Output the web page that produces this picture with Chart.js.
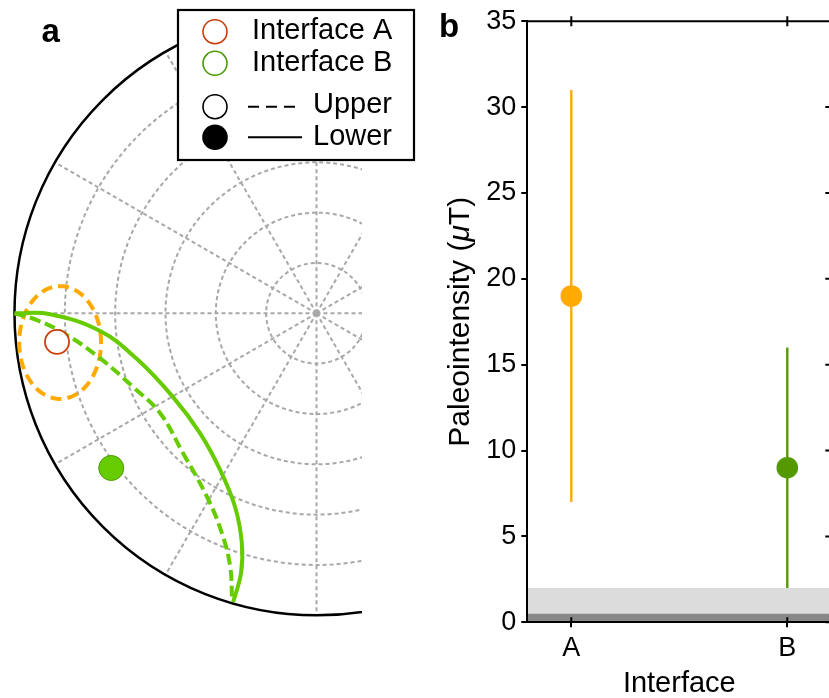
<!DOCTYPE html>
<html lang="en">
<head>
<meta charset="UTF-8">
<title>Interface directions and paleointensity</title>
<script src="https://cdn.jsdelivr.net/npm/chart.js@4"></script>
<style>
    html, body { margin: 0; padding: 0; width: 829px; height: 698px; overflow: hidden; background: #fff; }
    #stereo { position: absolute; left: 0; top: 0; }
    #intensity { position: absolute; left: 420px; top: 0; }
</style>
</head>
<body>
<canvas id="stereo" width="420" height="698"></canvas>
<canvas id="intensity" width="440" height="698"></canvas>
<script>
// ---- panel a: directions (declination / inclination in degrees, inc < 0 = upper hemisphere)
const siteNames = ['Interface A', 'Interface B'];
const siteDec = [263.7, 233.0];
const siteInc = [-12.2, 13.4];

// great circle traces
const lowerArcDec = [270, 269.8, 265.3, 255.7, 239.7, 224.2, 211.6, 202.8, 198.0, 196.2, 196.1];
const lowerArcInc = [0, 10.6, 25.3, 34.8, 40.5, 40.2, 35.2, 27.4, 18.0, 9.4, 0.4];
const upperArcDec = [270, 268.6, 265.0, 258.3, 248.1, 237.5, 223.7, 210.8, 203.3, 198.8, 196.4];
const upperArcInc = [0, -6.7, -15.4, -24.1, -31.1, -34.7, -32.4, -26.3, -18.7, -10.2, -0.9];

// confidence ellipse of Interface A: centre and half axes (degrees)
const ellipseA = { dec: 263.5, inc: -13.1, halfX: 12.2, halfY: 16.8 };

// net grid
const ringInc = [15, 30, 45, 60, 75];
const spokeDec = [0, 30, 60, 90, 120, 150, 180, 210, 240, 270, 300, 330];

// ---- panel b: paleointensity
const interfaces = ['A', 'B'];
const intensity = [19, 9];
const intensityLow = [7, 2];
const intensityHigh = [31, 16];
const bandTop = [2, 0.5];

const colorsA = { A: '#cc3c08', B: '#66cc00' };
const colorsB = ['#ffaa00', '#559900'];
const FONT = '"Liberation Sans", Arial, Helvetica, sans-serif';
Chart.defaults.font.family = FONT;
Chart.defaults.color = '#000';

// simple polar projection, radius linear in inclination
function project(dec, inc) {
    const r = (90 - Math.abs(inc)) / 90;
    const d = dec * Math.PI / 180;
    return { x: r * Math.sin(d), y: r * Math.cos(d) };
}

const lowerArc = lowerArcDec.map((d, i) => project(d, lowerArcInc[i]));
const upperArc = upperArcDec.map((d, i) => project(d, upperArcInc[i]));
const sites = siteDec.map((d, i) => project(d, siteInc[i]));

const ec = project(ellipseA.dec, ellipseA.inc);
const ellipsePts = [];
for (let k = 0; k <= 72; k++) {
    const t = k * 5 * Math.PI / 180;
    ellipsePts.push({ x: ec.x + ellipseA.halfX / 90 * Math.cos(t), y: ec.y + ellipseA.halfY / 90 * Math.sin(t) });
}

// grid + primitive circle
const netGrid = {
    id: 'netGrid',
    beforeDatasetsDraw(chart) {
        const { ctx, chartArea: a, scales: { x, y } } = chart;
        const cx = x.getPixelForValue(0), cy = y.getPixelForValue(0);
        const R = x.getPixelForValue(1) - cx;
        ctx.save();
        ctx.beginPath();
        ctx.rect(a.left, a.top, a.right - a.left, a.bottom - a.top);
        ctx.clip();
        ctx.strokeStyle = '#a8a8a8';
        ctx.lineWidth = 2;
        ctx.setLineDash([4, 3]);
        ringInc.forEach(inc => {
            ctx.beginPath();
            ctx.arc(cx, cy, R * (90 - inc) / 90, 0, 2 * Math.PI);
            ctx.stroke();
        });
        spokeDec.forEach(d => {
            const t = d * Math.PI / 180;
            ctx.beginPath();
            ctx.moveTo(cx, cy);
            ctx.lineTo(cx + R * Math.sin(t), cy - R * Math.cos(t));
            ctx.stroke();
        });
        ctx.setLineDash([]);
        ctx.strokeStyle = '#000';
        ctx.lineWidth = 2.5;
        ctx.beginPath();
        ctx.arc(cx, cy, R, 0, 2 * Math.PI);
        ctx.stroke();
        ctx.restore();
    }
};

// legend box and panel letter
const netLegend = {
    id: 'netLegend',
    afterDraw(chart) {
        const ctx = chart.ctx;
        ctx.save();
        ctx.fillStyle = '#fff';
        ctx.fillRect(177, 9, 238, 152);
        ctx.strokeStyle = '#000';
        ctx.lineWidth = 2.2;
        ctx.strokeRect(178, 10, 236, 150);

        function circle(cx, cy, stroke, fill) {
            ctx.beginPath();
            ctx.arc(cx, cy, 12, 0, 2 * Math.PI);
            if (fill) { ctx.fillStyle = fill; ctx.fill(); }
            ctx.lineWidth = 1.6;
            ctx.strokeStyle = stroke;
            ctx.stroke();
        }
        circle(215, 31.7, colorsA.A, '#fff');
        circle(215, 63.3, '#4c9a00', '#fff');
        circle(215, 106.7, '#000', '#fff');
        circle(215, 137.3, '#000', '#000');

        ctx.strokeStyle = '#000';
        ctx.lineWidth = 2;
        ctx.setLineDash([11, 7]);
        ctx.beginPath(); ctx.moveTo(248, 106.7); ctx.lineTo(299, 106.7); ctx.stroke();
        ctx.setLineDash([]);
        ctx.beginPath(); ctx.moveTo(248, 137.3); ctx.lineTo(302, 137.3); ctx.stroke();

        ctx.fillStyle = '#000';
        ctx.font = '29px ' + FONT;
        ctx.textBaseline = 'alphabetic';
        ctx.fillText(siteNames[0], 252, 39.3);
        ctx.fillText(siteNames[1], 252, 70.7);
        ctx.fillText('Upper', 313, 113.3);
        ctx.fillText('Lower', 313, 145);

        ctx.font = 'bold 33px ' + FONT;
        ctx.fillText('a', 41.5, 41.5);
        ctx.restore();
    }
};

new Chart(document.getElementById('stereo'), {
    type: 'scatter',
    data: {
        datasets: [
            {
                label: siteNames[0], data: [sites[0]], order: 0,
                pointRadius: 12, pointBackgroundColor: '#fff', pointBorderColor: colorsA.A, pointBorderWidth: 1.8
            },
            {
                label: siteNames[1], data: [sites[1]], order: 0,
                pointRadius: 12.5, pointBackgroundColor: colorsA.B, pointBorderColor: '#4c9a00', pointBorderWidth: 1
            },
            {
                label: 'Lower', data: lowerArc, showLine: true, order: 1, clip: 0,
                borderColor: colorsA.B, borderWidth: 4, pointRadius: 0, tension: 0.4
            },
            {
                label: 'Upper', data: upperArc, showLine: true, order: 1, clip: 0,
                borderColor: colorsA.B, borderWidth: 4, borderDash: [11, 5], pointRadius: 0, tension: 0.4
            },
            {
                label: 'a95', data: ellipsePts, showLine: true, order: 2, clip: 0,
                borderColor: '#ffaa00', borderWidth: 4, borderDash: [11, 6], pointRadius: 0
            }
        ]
    },
    options: {
        responsive: false,
        animation: false,
        layout: { padding: { left: 0, top: 0, right: 58, bottom: 0 }, autoPadding: false },
        scales: {
            x: { display: false, min: -1.048, max: 0.1507 },
            y: { display: false, min: -1.2738, max: 1.0374 }
        },
        plugins: { legend: { display: false }, tooltip: { enabled: false } }
    },
    plugins: [netGrid, netLegend]
});

// ---- panel b
const X_MIN = -0.2037, X_MAX = 1.2037;

const datasetsB = [];
bandTop.forEach((v, i) => {
    datasetsB.push({
        data: [{ x: X_MIN, y: v }, { x: X_MAX, y: v }], showLine: true, fill: 'origin',
        backgroundColor: i === 0 ? '#dcdcdc' : '#888888', borderWidth: 0, pointRadius: 0, order: 4 - i
    });
});
interfaces.forEach((name, i) => {
    datasetsB.push({
        label: name + ' range', data: [{ x: i, y: intensityLow[i] }, { x: i, y: intensityHigh[i] }],
        showLine: true, borderColor: colorsB[i], borderWidth: 2.4, pointRadius: 0, order: 1
    });
    datasetsB.push({
        label: name, data: [{ x: i, y: intensity[i] }],
        pointRadius: 10.8, pointBackgroundColor: colorsB[i], pointBorderWidth: 0, order: 0
    });
});

const frameB = {
    id: 'frameB',
    afterDraw(chart) {
        const { ctx, chartArea: a, scales: { x, y } } = chart;
        ctx.save();
        ctx.strokeStyle = '#000';
        ctx.lineWidth = 2;
        ctx.beginPath();
        ctx.moveTo(a.left - 1, a.top); ctx.lineTo(a.right, a.top);
        ctx.moveTo(a.right, a.top); ctx.lineTo(a.right, a.bottom);
        interfaces.forEach((_, i) => {
            const px = x.getPixelForValue(i);
            ctx.moveTo(px, a.top - 5); ctx.lineTo(px, a.top + 5);
            ctx.moveTo(px, a.bottom); ctx.lineTo(px, a.bottom - 5);
        });
        y.ticks.forEach(t => {
            const py = y.getPixelForValue(t.value);
            ctx.moveTo(a.right, py); ctx.lineTo(a.right - 6, py);
        });
        ctx.stroke();

        // y title with italic mu
        const parts = [['Paleointensity (', ''], ['\u03bc', 'italic '], ['T)', '']];
        ctx.fillStyle = '#000';
        ctx.textBaseline = 'middle';
        ctx.translate(41, (a.top + a.bottom) / 2);
        ctx.rotate(-Math.PI / 2);
        let total = 0;
        parts.forEach(p => { ctx.font = p[1] + '30px ' + FONT; total += ctx.measureText(p[0]).width; });
        let pos = -total / 2;
        parts.forEach(p => {
            ctx.font = p[1] + '30px ' + FONT;
            ctx.fillText(p[0], pos, 0);
            pos += ctx.measureText(p[0]).width;
        });
        ctx.restore();

        ctx.save();
        ctx.fillStyle = '#000';
        ctx.font = 'bold 33px ' + FONT;
        ctx.fillText('b', 19, 37);
        ctx.restore();
    }
};

new Chart(document.getElementById('intensity'), {
    type: 'scatter',
    data: { datasets: datasetsB },
    options: {
        responsive: false,
        animation: false,
        layout: { padding: { left: 0, top: 15.5, right: 28.7, bottom: 0 }, autoPadding: false },
        scales: {
            x: {
                type: 'linear', min: X_MIN, max: X_MAX,
                afterBuildTicks: s => { s.ticks = interfaces.map((_, i) => ({ value: i })); },
                afterFit: s => { s.height = 75.7; },
                ticks: { callback: v => interfaces[v], font: { size: 27 }, color: '#000', padding: 5, maxRotation: 0, autoSkip: false },
                grid: { drawOnChartArea: false, drawTicks: true, tickLength: 5, color: '#000', lineWidth: 2 },
                border: { display: true, color: '#000', width: 2, z: 1 },
                title: { display: true, text: 'Interface', color: '#000', font: { size: 29, lineHeight: 1 }, padding: { top: 0, bottom: 0 } }
            },
            y: {
                min: 0, max: 35,
                afterFit: s => { s.width = 107.3; },
                ticks: { stepSize: 5, font: { size: 27 }, color: '#000', padding: 5 },
                grid: { drawOnChartArea: false, drawTicks: true, tickLength: 6, color: '#000', lineWidth: 2 },
                border: { display: true, color: '#000', width: 2, z: 1 }
            }
        },
        plugins: { legend: { display: false }, tooltip: { enabled: false } }
    },
    plugins: [frameB]
});
</script>
</body>
</html>
